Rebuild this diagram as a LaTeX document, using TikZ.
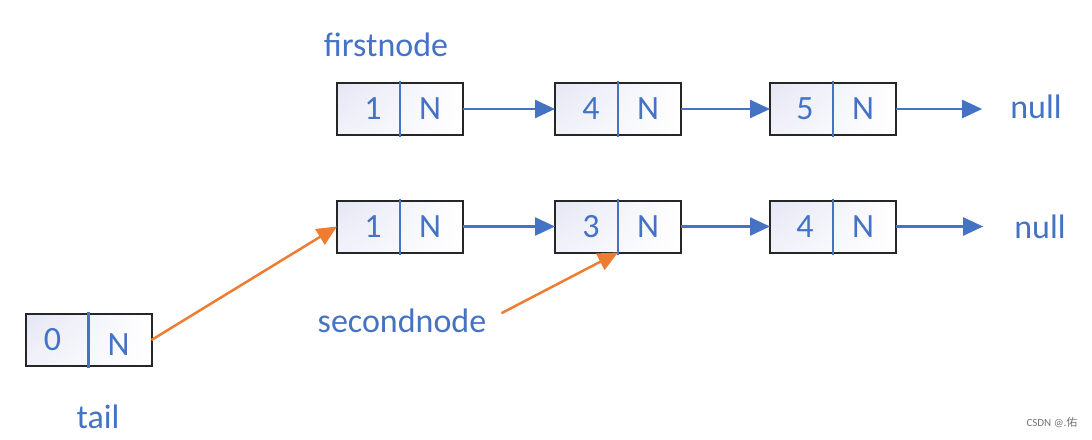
\documentclass[tikz,border=0pt]{standalone}
\usepackage{fontspec}
\setmainfont{Carlito}
\newfontfamily\cjkfont{Noto Sans CJK SC}
\usetikzlibrary{arrows.meta,shadings}
\definecolor{nblue}{HTML}{4472C4}
\definecolor{norange}{HTML}{ED7D31}
\definecolor{lav}{HTML}{E4E6F4}
\tikzset{
  lboxst/.style={draw=black!85, line width=2pt, minimum width=126pt, minimum height=52pt, inner sep=0pt, outer sep=0pt,
    upper left=lav, lower left=lav!50, upper right=white, lower right=white},
  divline/.style={draw=nblue, line width=2.5pt},
  txt/.style={text=nblue, font=\fontsize{34}{40}\selectfont, inner sep=0pt},
  barrow/.style={draw=nblue, line width=2.5pt, -{Triangle[length=20pt,width=18pt]}},
  oarrow/.style={draw=norange, line width=2.5pt, -{Triangle[length=20pt,width=18pt]}},
}
\newcommand\lbox[6]{%
  \node[lboxst] (#1) at (#2,#3) {};
  \draw[divline] ([yshift=2pt]#1.north) -- ([yshift=-2pt]#1.south);
  \node[txt] (#1v) at ([xshift=#6]#1.center) {#4};
  \node[txt] (#1n) at ([xshift=30pt,yshift=#5]#1.center) {N};
}
\begin{document}
\begin{tikzpicture}[x=1pt,y=-1pt]
\useasboundingbox (0,0) rectangle (1092,439);
% row 1
\lbox{a}{400}{109}{1}{0pt}{-27pt}
\lbox{b}{618}{109}{4}{0pt}{-27pt}
\lbox{c}{833}{109}{5}{0pt}{-28pt}
\node[txt] (null1) at (1036,107) {null};
% row 2
\lbox{d}{400}{226.5}{1}{0pt}{-27pt}
\lbox{e}{618}{226.5}{3}{0pt}{-27pt}
\lbox{f}{833}{226.5}{4}{0pt}{-28pt}
\node[txt] (null2) at (1040,227) {null};
% tail box
\lbox{g}{88.5}{340}{0}{-5pt}{-36pt}
% labels
\node[txt] (first) at (386,45) {firstnode};
\node[txt] (second) at (402,321) {secondnode};
\node[txt] (tail) at (98,417) {tail};
\node[text=black!55, font=\fontsize{11}{13}\selectfont, inner sep=0pt] (wm) at (1052,422) {CSDN @.{\cjkfont 佑}};
% arrows
\draw[barrow] (a.east) -- (b.west);
\draw[barrow] (b.east) -- (c.west);
\draw[barrow, shorten >=28pt] (c.east) -- (null1.west |- c.east);
\draw[barrow] (d.east) -- (e.west);
\draw[barrow] (e.east) -- (f.west);
\draw[barrow, shorten >=31pt] (f.east) -- (null2.west |- f.east);
\draw[oarrow] (g.east) -- (d.west);
\draw[oarrow, shorten <=17pt] (second.east) -- (e.south);
\end{tikzpicture}
\end{document}
